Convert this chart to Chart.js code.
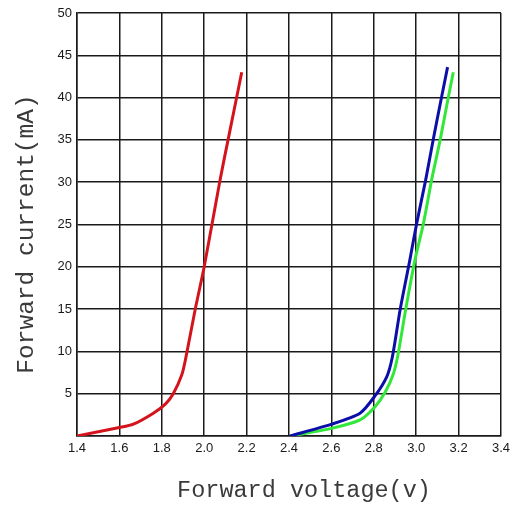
<!DOCTYPE html>
<html>
<head>
<meta charset="utf-8">
<script src="https://cdn.jsdelivr.net/npm/chart.js@4/dist/chart.umd.min.js"></script>
<style>
  html, body { margin: 0; padding: 0; background: #fff; }
  #wrap { width: 518px; height: 506px; position: relative; }
</style>
</head>
<body>
<div id="wrap"><canvas id="chart"></canvas></div>
<script>
// forward voltage (V) / forward current (mA)
const redVolts   = [1.40, 1.60, 1.666, 1.76, 1.818, 1.854, 1.894, 1.913, 1.957, 2.00, 2.075, 2.119, 2.177];
const redAmps    = [0,    1.0,  1.4,   2.7,  3.8,   5.0,   7.2,   9.2,   14.9,  20.0, 30.3,  35.8,  43.0];
const blueVolts  = [2.405, 2.601, 2.735, 2.803, 2.861, 2.888, 2.924, 2.97, 3.002, 3.045, 3.08, 3.12, 3.148];
const blueAmps   = [0,     1.4,   2.7,   4.65,  7.0,   9.4,   14.9,  20.8, 25.1,  30.3,  35.0, 40.1, 43.6];
const greenVolts = [2.405, 2.601, 2.735, 2.807, 2.854, 2.893, 2.914, 2.95, 2.994, 3.034, 3.073, 3.113, 3.152, 3.175];
const greenAmps  = [0,     0.9,   1.9,   3.5,   5.2,   7.4,   9.6,   14.9, 20.8,  25.1,  30.3,  35.0,  40.1,  43.0];

const xMin = 1.4, xMax = 3.4, xStep = 0.2;
const yMin = 0, yMax = 50, yStep = 5;
const xTitle = 'Forward voltage(v)';
const yTitle = 'Forward current(mA)';

function pts(xs, ys) {
  return xs.map((x, i) => ({ x: x, y: ys[i] }));
}

const ink = '#1a1a1a';

const titles = {
  id: 'titles',
  afterDraw(c) {
    const ctx = c.ctx;
    ctx.save();
    ctx.fillStyle = '#3a3a3a';
    ctx.font = '23.5px "Liberation Mono"';
    ctx.textAlign = 'center';
    ctx.textBaseline = 'alphabetic';
    ctx.fillText(xTitle, 304, 497);
    ctx.translate(33, 234);
    ctx.rotate(-Math.PI / 2);
    ctx.font = '24.5px "Liberation Mono"';
    ctx.fillText(yTitle, 0, 0);
    ctx.restore();
  }
};

chart = new Chart(document.getElementById('chart'), {
  type: 'line',
  data: {
    datasets: [
      { data: pts(redVolts, redAmps), borderColor: '#d4141c' },
      { data: pts(blueVolts, blueAmps), borderColor: '#0b0fa8' },
      { data: pts(greenVolts, greenAmps), borderColor: '#33e63a' }
    ]
  },
  options: {
    responsive: true,
    maintainAspectRatio: false,
    animation: false,
    layout: { padding: { left: 0, top: 13, right: 17, bottom: 0 } },
    elements: {
      line: { borderWidth: 3, tension: 0.25 },
      point: { radius: 0 }
    },
    plugins: { legend: { display: false }, tooltip: { enabled: false } },
    scales: {
      x: {
        type: 'linear',
        min: xMin, max: xMax,
        afterFit: s => { s.height = 70; },
        ticks: {
          stepSize: xStep,
          padding: 5,
          color: ink,
          font: { family: '"Liberation Sans"', size: 13 },
          callback: v => v.toFixed(1)
        },
        grid: { color: ink, lineWidth: 1.5, drawTicks: false },
        border: { color: ink, width: 1.5 }
      },
      y: {
        min: yMin, max: yMax,
        afterFit: s => { s.width = 77; },
        ticks: {
          stepSize: yStep,
          padding: 5,
          color: ink,
          font: { family: '"Liberation Sans"', size: 13 },
          callback: v => v === 0 ? '' : v
        },
        grid: { color: ink, lineWidth: 1.5, drawTicks: false },
        border: { color: ink, width: 1.5 }
      }
    }
  },
  plugins: [titles]
});
</script>
</body>
</html>
